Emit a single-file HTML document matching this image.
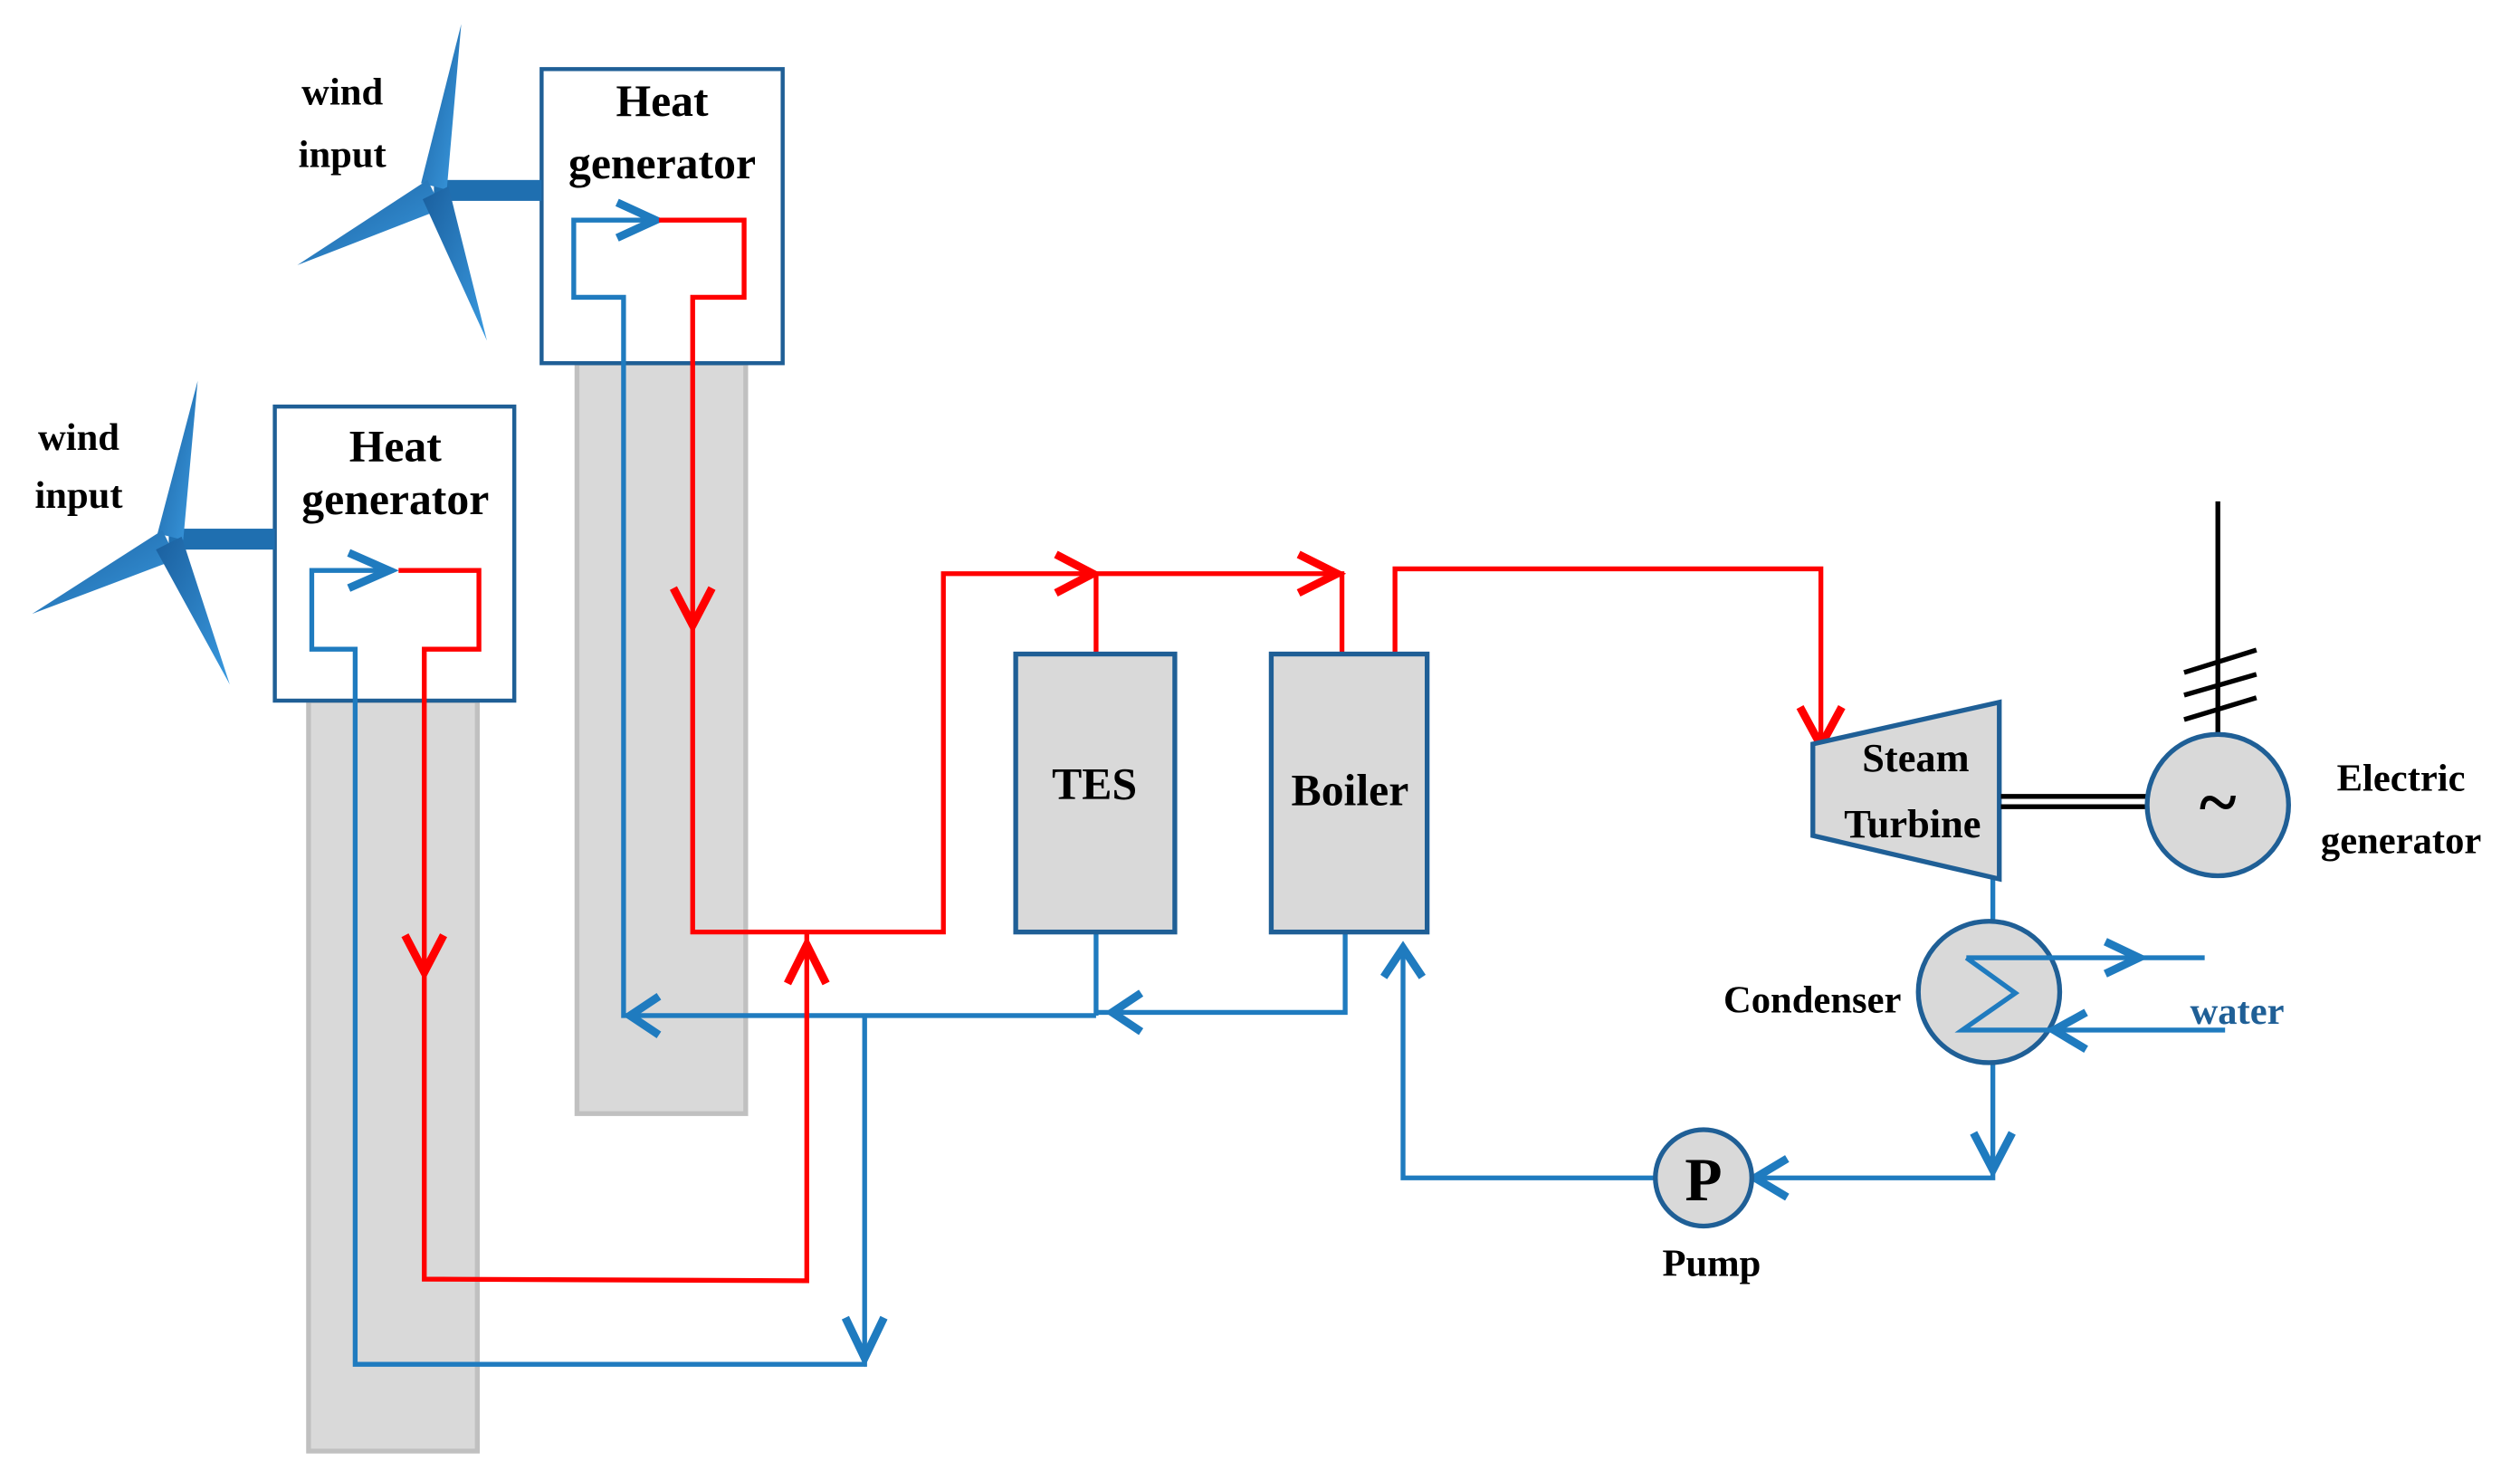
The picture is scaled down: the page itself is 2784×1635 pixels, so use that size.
<!DOCTYPE html>
<html><head><meta charset="utf-8"><style>
html,body{margin:0;padding:0;background:#fff;}
svg{display:block}
text{font-family:"Liberation Serif",serif;font-weight:bold;}
</style></head><body>
<svg width="2784" height="1635" viewBox="0 0 1568 921" preserveAspectRatio="none" xmlns="http://www.w3.org/2000/svg">
<defs>
<linearGradient id="bl" x1="0" y1="0" x2="1" y2="1"><stop offset="0" stop-color="#1a5f9e"/><stop offset="1" stop-color="#3a9ae0"/></linearGradient>
</defs>
<rect width="1568" height="921" fill="#fff"/>
<rect x="359" y="226" width="105" height="467" fill="#d9d9d9" stroke="#c0c0c0" stroke-width="3"/>
<rect x="192" y="436" width="105" height="467" fill="#d9d9d9" stroke="#c0c0c0" stroke-width="3"/>
<rect x="337" y="43" width="150" height="183" fill="#fff" stroke="#1f5f96" stroke-width="2.5"/>
<rect x="171" y="253" width="149" height="183" fill="#fff" stroke="#1f5f96" stroke-width="2.5"/>
<text x="412" y="72" font-size="28" text-anchor="middle">Heat</text>
<text x="412" y="111" font-size="28" text-anchor="middle">generator</text>
<text x="246" y="287" font-size="28" text-anchor="middle">Heat</text>
<text x="246" y="320" font-size="28" text-anchor="middle">generator</text>
<text x="213" y="65" font-size="24" text-anchor="middle">wind</text>
<text x="213" y="104" font-size="24" text-anchor="middle">input</text>
<text x="49" y="280" font-size="24" text-anchor="middle">wind</text>
<text x="49" y="316" font-size="24" text-anchor="middle">input</text>
<g fill="url(#bl)">
<rect x="270" y="112" width="67" height="13" fill="#1f6fb0"/>
<polygon points="287,15 278,118 262,114"/>
<polygon points="185,165 266,112 275,130"/>
<polygon points="303,212 279,116 263,124"/>
<rect x="105" y="329" width="66" height="13" fill="#1f6fb0"/>
<polygon points="123,237 114,336 98,332"/>
<polygon points="20,382 101,330 110,348"/>
<polygon points="143,426 113,334 97,342"/>
</g>
<g fill="none" stroke-linejoin="miter" stroke-linecap="butt">
<g stroke="#1f7bbf" stroke-width="3">
<polyline points="410,137 357,137 357,185 388,185 388,632 682,632"/>
<polyline points="245,355 194,355 194,404 221,404 221,849 538,849 538,632"/>
<polyline points="682,580 682,632"/>
<polyline points="682,630 837,630 837,580"/>
<polyline points="1240,547 1240,573"/>
<polyline points="1240,662 1240,733 1060,733"/>
<polyline points="1030,733 873,733 873,588"/>
</g>
<g stroke="#1f7bbf" stroke-width="5">
<polyline points="384,126 408,137 384,148"/>
<polyline points="217,344 242,355 217,366"/>
<polyline points="410,620 392,632 410,644"/>
<polyline points="710,618 692,630 710,642"/>
<polyline points="526,820 538,845 550,820"/>
<polyline points="861,608 873,590 885,608"/>
<polyline points="1228,705 1240,728 1252,705"/>
<polyline points="1112,721 1092,733 1112,745"/>
</g>
<g stroke="#ff0000" stroke-width="3">
<polyline points="410,137 463,137 463,185 431,185 431,580 587,580 587,357 835,357 835,407"/>
<polyline points="682,357 682,407"/>
<polyline points="248,355 298,355 298,404 264,404 264,796 502,797 502,580"/>
<polyline points="868,407 868,354 1133,354 1133,462"/>
</g>
<g stroke="#ff0000" stroke-width="5">
<polyline points="419,366 431,389 443,366"/>
<polyline points="252,582 264,605 276,582"/>
<polyline points="490,612 502,588 514,612"/>
<polyline points="657,345 680,357 657,369"/>
<polyline points="808,345 832,357 808,369"/>
<polyline points="1120,440 1133,464 1146,440"/>
</g>
</g>
<rect x="632" y="407" width="99" height="173" fill="#d9d9d9" stroke="#1f5f96" stroke-width="3"/>
<rect x="791" y="407" width="97" height="173" fill="#d9d9d9" stroke="#1f5f96" stroke-width="3"/>
<text x="681" y="497" font-size="28" text-anchor="middle">TES</text>
<text x="840" y="501" font-size="28" text-anchor="middle">Boiler</text>
<polygon points="1128,463 1244,437 1244,547 1128,520" fill="#d9d9d9" stroke="#1f5f96" stroke-width="3"/>
<text x="1192" y="480" font-size="25" text-anchor="middle">Steam</text>
<text x="1190" y="521" font-size="25" text-anchor="middle">Turbine</text>
<line x1="1245" y1="495.6" x2="1338" y2="495.6" stroke="#000" stroke-width="3"/>
<line x1="1245" y1="502" x2="1338" y2="502" stroke="#000" stroke-width="3"/>
<line x1="1380" y1="312" x2="1380" y2="456" stroke="#000" stroke-width="3"/>
<g stroke="#000" stroke-width="3">
<line x1="1359" y1="418.5" x2="1404" y2="404.5"/>
<line x1="1359" y1="432.6" x2="1404" y2="419.6"/>
<line x1="1359" y1="447.8" x2="1404" y2="434.2"/>
</g>
<circle cx="1380" cy="501" r="44" fill="#d9d9d9" stroke="#1f5f96" stroke-width="3"/>
<text x="1380" y="514" font-size="44" text-anchor="middle" font-weight="normal">~</text>
<text x="1494" y="492" font-size="24" text-anchor="middle">Electric</text>
<text x="1494" y="531" font-size="24" text-anchor="middle">generator</text>
<circle cx="1237.6" cy="617.3" r="44" fill="#d9d9d9" stroke="#1f5f96" stroke-width="3"/>
<g fill="none" stroke="#1f7bbf" stroke-width="3">
<polyline points="1223.5,596 1371.8,596"/>
<polyline points="1223.5,596 1254,618 1221,641 1384.5,641"/>
</g>
<g fill="none" stroke="#1f7bbf" stroke-width="5">
<polyline points="1310,586 1331,596 1310,606"/>
<polyline points="1298,630 1278,641 1298,653"/>
</g>
<text x="1183" y="630" font-size="24" text-anchor="end">Condenser</text>
<text x="1392" y="637" font-size="24" text-anchor="middle" fill="#1f5f96">water</text>
<circle cx="1060" cy="733" r="30" fill="#d9d9d9" stroke="#1f5f96" stroke-width="3"/>
<text x="1060" y="747" font-size="38" text-anchor="middle" font-weight="normal">P</text>
<text x="1065" y="794" font-size="24" text-anchor="middle">Pump</text>
</svg>
</body></html>
